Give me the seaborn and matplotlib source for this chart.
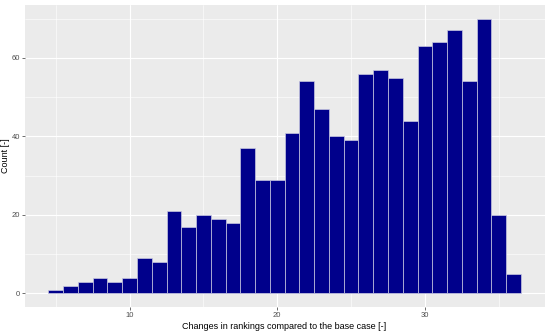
import numpy as np
import pandas as pd
import matplotlib
matplotlib.use("Agg")
import matplotlib.pyplot as plt
import seaborn as sns

# changes in rankings (integer values) and how often each one occurs
cambios = list(range(5, 37))
cuentas = [1, 2, 3, 4, 3, 4, 9, 8, 21, 17, 20, 19, 18, 37, 29, 29,
           41, 54, 47, 40, 39, 56, 57, 55, 44, 63, 64, 67, 54, 70, 20, 5]
xticks = [10, 20, 30]
yticks = [0, 20, 40, 60]

sns.set_theme(style="darkgrid", rc={
    "axes.facecolor": "#EBEBEB",
    "grid.color": "white",
    "axes.edgecolor": "#EBEBEB",
})
plt.rcParams['font.family'] = ['Liberation Sans', 'DejaVu Sans']

data = pd.DataFrame({"cambio": cambios, "cuenta": cuentas})

fig, ax = plt.subplots(figsize=(5.5, 3.31), dpi=100)
fig.subplots_adjust(left=0.045, right=0.99, top=0.985, bottom=0.072)

sns.histplot(data=data, x="cambio", weights="cuenta", discrete=True,
             color="#00008B", edgecolor="#C8C8E0", linewidth=0.5,
             alpha=1, ax=ax)

ax.set_xlim(2.9, 38.1)
ax.set_ylim(-3.5, 73.5)
ax.set_xticks(xticks)
ax.set_yticks(yticks)
ax.set_xticks([5, 15, 25, 35], minor=True)
ax.set_yticks([10, 30, 50, 70], minor=True)
ax.grid(which="major", color="white", linewidth=0.8)
ax.grid(which="minor", color="white", linewidth=0.4)
ax.set_axisbelow(True)
for s in ax.spines.values():
    s.set_visible(False)

ax.tick_params(axis="both", which="major", labelsize=5.5, labelcolor="#4D4D4D",
               color="#333333", length=2, width=0.5, pad=1.5, bottom=True, left=True)
ax.tick_params(axis="both", which="minor", length=0)

ax.set_xlabel("Changes in rankings compared to the base case [-]", fontsize=6.5,
              color="black", labelpad=2)
ax.set_ylabel("Count [-]", fontsize=6.5, color="black", labelpad=1)

fig.savefig("out.png", dpi=100)
plt.close(fig)
